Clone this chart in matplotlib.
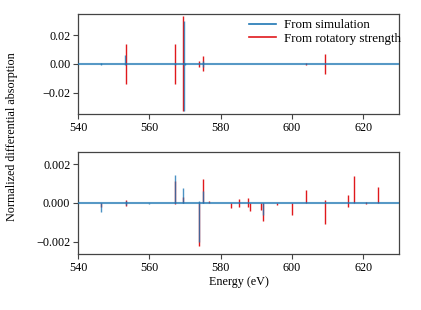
import matplotlib
matplotlib.use("Agg")
import matplotlib.pyplot as plt
from matplotlib.lines import Line2D

plt.rcParams['font.family'] = ['Liberation Serif', 'DejaVu Serif']
plt.rcParams['font.size'] = 8.7
plt.rcParams['axes.unicode_minus'] = True

BLUE = '#1f77b4'
RED = '#e0191c'
FS = 8.7
LFS = 9.4

# ---- top panel data ----
top_red_E = [553.4, 567.2, 569.5, 573.8, 575.0, 603.9, 609.3]
top_red_lo = [-0.0136, -0.0136, -0.0324, -0.0020, -0.0050, -0.0010, -0.0071]
top_red_hi = [0.0136, 0.0136, 0.0331, 0.0024, 0.0053, 0.0010, 0.0069]

top_blue_E = [546.4, 553.1, 567.2, 569.6, 570.0, 575.0]
top_blue_lo = [-0.0006, -0.0010, -0.0008, -0.0326, -0.0010, -0.0020]
top_blue_hi = [0.0004, 0.0064, 0.0008, 0.0300, 0.0010, 0.0020]

# ---- bottom panel data ----
bot_red_E = [546.4, 553.4, 567.2, 569.5, 574.0, 575.0, 576.6, 582.8, 585.0,
             587.8, 588.2, 591.2, 592.0, 595.9, 600.0, 603.9, 609.3, 615.7,
             617.4, 620.8, 624.1]
bot_red_lo = [-0.00020, -0.00015, -0.00005, 0.0, -0.00222, 0.0, 0.0, -0.00024,
              -0.00020, -0.00020, -0.00041, -0.00036, -0.00094, -0.00012,
              -0.00062, 0.0, -0.00106, -0.00020, 0.0, -0.00003, 0.0]
bot_red_hi = [0.0, 0.00014, 0.00111, 0.00030, 0.0, 0.00125, 0.00012, 0.0,
              0.00023, 0.00028, 0.0, 0.0, 0.0, 0.0, 0.0, 0.00069, 0.00017,
              0.00040, 0.00137, 0.00003, 0.00080]

bot_blue_E = [546.4, 553.4, 560.0, 567.2, 569.5, 574.0, 575.0, 592.0]
bot_blue_lo = [-0.00047, -0.00010, -0.00006, 0.0, 0.0, -0.00200, 0.0, -0.00060]
bot_blue_hi = [0.0, 0.00010, 0.0, 0.00142, 0.00075, 0.00010, 0.00060, 0.0]

xticks = [540, 560, 580, 600, 620]

fig = plt.figure(figsize=(4.21, 3.10), dpi=100)
W, H = 421, 310
ax1 = fig.add_axes([78 / W, 1 - 114 / H, 321 / W, 100 / H])
ax2 = fig.add_axes([78 / W, 1 - 254 / H, 321 / W, 102 / H])

def style(ax):
    for s in ax.spines.values():
        s.set_color('#444444')
        s.set_linewidth(0.9)
    ax.tick_params(direction='out', length=3.5, width=0.8, color='#444444',
                   labelsize=FS, pad=2)
    ax.set_xlim(540, 630)
    ax.set_xticks(xticks)

# top
ax1.vlines(top_red_E, top_red_lo, top_red_hi, color=RED, lw=1.0, zorder=2)
ax1.axhline(0, color=BLUE, lw=1.5, alpha=0.75, zorder=3)
ax1.vlines(top_blue_E, top_blue_lo, top_blue_hi, color=BLUE, lw=1.0, alpha=0.8, zorder=3)
ax1.set_ylim(-0.0345, 0.0345)
ax1.set_yticks([-0.02, 0.0, 0.02])
ax1.set_yticklabels(['\u22120.02', '0.00', '0.02'])
style(ax1)
handles = [Line2D([], [], color=BLUE, lw=1.2), Line2D([], [], color=RED, lw=1.2)]
ax1.legend(handles, ['From simulation', 'From rotatory strength'], loc='upper right',
           bbox_to_anchor=(401 / W, 1 - 19 / H), bbox_transform=fig.transFigure,
           frameon=False, fontsize=LFS, handlelength=2.1, borderaxespad=0.0,
           borderpad=0.0, labelspacing=0.1, handletextpad=0.6)

# bottom
ax2.vlines(bot_red_E, bot_red_lo, bot_red_hi, color=RED, lw=1.0, zorder=2)
ax2.axhline(0, color=BLUE, lw=1.5, alpha=0.75, zorder=3)
ax2.vlines(bot_blue_E, bot_blue_lo, bot_blue_hi, color=BLUE, lw=1.0, alpha=0.8, zorder=3)
ax2.set_ylim(-0.00262, 0.00262)
ax2.set_yticks([-0.002, 0.0, 0.002])
ax2.set_yticklabels(['\u22120.002', '0.000', '0.002'])
style(ax2)
ax2.set_xlabel('Energy (eV)', fontsize=FS, labelpad=2)

fig.text(12 / W, 1 - 137 / H, 'Normalized differential absorption', rotation=90,
         ha='center', va='center', fontsize=FS)

fig.savefig('out.png', dpi=100)
